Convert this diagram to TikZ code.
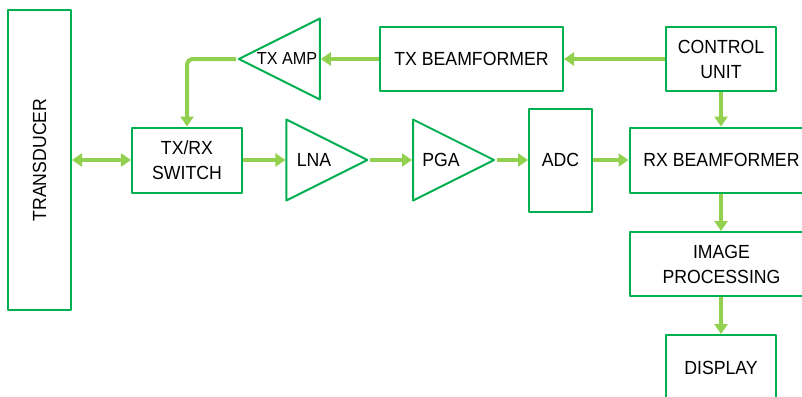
\documentclass[tikz,border=0pt]{standalone}
\usepackage{fontspec}
\setmainfont{Liberation Sans}[FakeStretch=0.93]
\usetikzlibrary{arrows.meta,shapes.geometric}
\definecolor{boxgreen}{HTML}{00B050}
\definecolor{arrowgreen}{HTML}{92D050}
\begin{document}
\begin{tikzpicture}[x=0.5pt,y=-0.5pt,line join=round,font=\fontsize{9.5}{12.5}\selectfont,
	box/.style={draw=boxgreen,line width=1pt,align=center,inner sep=0pt},
	amp/.style={draw=boxgreen,line width=1pt,isosceles triangle,isosceles triangle stretches,
		inner sep=0pt,minimum width=40.5pt,minimum height=40.5pt},
	link/.style={draw=arrowgreen,line width=2pt,-{Triangle[width=6.5pt,length=5pt]}}]
	\useasboundingbox (0,0) rectangle (802,396);
	% receive chain
	\node[box,minimum width=31.5pt,minimum height=150pt] (transducer) at (39.5,160) {\rotatebox{90}{TRANSDUCER}};
	\node[box,minimum width=55pt,minimum height=32.5pt] (switch) at (187,160) {TX/RX\\SWITCH};
	\node[amp] (lna) at (314,160) {LNA};
	\node[amp] (pga) at (441,160) {PGA};
	\node[box,minimum width=31.5pt,minimum height=51.5pt] (adc) at (560.5,160) {ADC};
	\node[box,minimum width=92pt,minimum height=32.5pt] (rxbf) at (721.5,160) {RX BEAMFORMER};
	\node[box,minimum width=92pt,minimum height=32pt] (imgproc) at (721.5,264) {IMAGE\\PROCESSING};
	\node[box,minimum width=55pt,minimum height=32.5pt] (display) at (721,367.5) {DISPLAY};
	% transmit chain
	\node[box,minimum width=55pt,minimum height=32pt] (control) at (721,59) {CONTROL\\UNIT};
	\node[box,minimum width=91.5pt,minimum height=32pt] (txbf) at (471.5,59) {TX BEAMFORMER};
	\node[amp,shape border rotate=180,font=\fontsize{8.7}{10}\selectfont] (txamp) at (287,59) {TX AMP};
	\draw[link,{Triangle[width=6.5pt,length=5pt]}-{Triangle[width=6.5pt,length=5pt]}] (transducer.east) -- (switch.west);
	\draw[link] (switch.east) -- (lna.lower side);
	\draw[link] (lna.apex) -- (pga.lower side);
	\draw[link] (pga.apex) -- (adc.west);
	\draw[link] (adc.east) -- (rxbf.west);
	\draw[link] (control.west) -- (txbf.east);
	\draw[link] (txbf.west) -- (txamp.lower side);
	\draw[link,rounded corners=3pt] (txamp.apex) -| (switch.north);
	\draw[link] (control.south) -- (control.south |- rxbf.north);
	\draw[link] (control.south |- rxbf.south) -- (control.south |- imgproc.north);
	\draw[link] (imgproc.south -| display.north) -- (display.north);
\end{tikzpicture}
\end{document}
